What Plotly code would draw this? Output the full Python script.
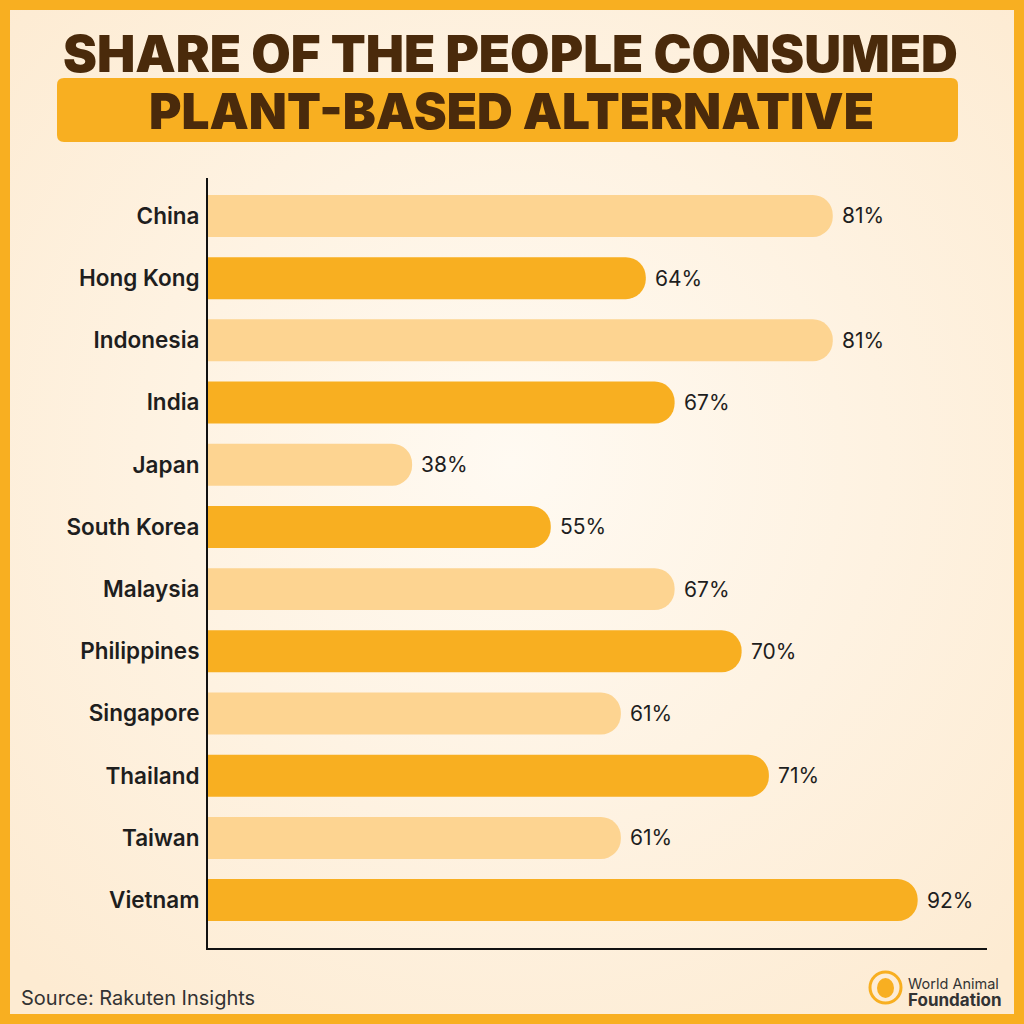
import base64

import plotly.graph_objects as go

# data
countries = [
    "China", "Hong Kong", "Indonesia", "India", "Japan", "South Korea",
    "Malaysia", "Philippines", "Singapore", "Thailand", "Taiwan", "Vietnam",
]
shares = [81, 64, 81, 67, 38, 55, 67, 70, 61, 71, 61, 92]
# drawn bar lengths (the infographic bars are not to scale), in axis units 0-100
bar_lengths = [80.2, 56.2, 80.2, 59.9, 26.2, 44.0, 59.9, 68.5, 53.0, 72.0, 53.0, 91.1]

ORANGE = "#F8AF21"
LIGHT = "#FDD491"
BROWN = "#4A2A0B"
INK = "#1E1E1E"
FONT = "Inter, 'Open Sans', sans-serif"

W = H = 1024


def px(x):
    return x / W


def py(y):
    return 1 - y / H


def rounded_rect(x0, y0, x1, y1, r):
    # path in paper coords from pixel box
    return (
        f"M {px(x0 + r)},{py(y0)} L {px(x1 - r)},{py(y0)} "
        f"Q {px(x1)},{py(y0)} {px(x1)},{py(y0 + r)} "
        f"L {px(x1)},{py(y1 - r)} Q {px(x1)},{py(y1)} {px(x1 - r)},{py(y1)} "
        f"L {px(x0 + r)},{py(y1)} Q {px(x0)},{py(y1)} {px(x0)},{py(y1 - r)} "
        f"L {px(x0)},{py(y0 + r)} Q {px(x0)},{py(y0)} {px(x0 + r)},{py(y0)} Z"
    )


def paper_text(x, y, text, size, color, weight=400, xanchor="center"):
    fig.add_annotation(
        x=px(x), y=py(y), xref="paper", yref="paper", showarrow=False,
        xanchor=xanchor, yanchor="middle", text=text,
        font={"family": FONT, "size": size, "color": color, "weight": weight},
    )


svg = (
    '<svg xmlns="http://www.w3.org/2000/svg" width="1004" height="1004" '
    'preserveAspectRatio="none">'
    '<defs><radialGradient id="g" cx="50%" cy="45%" r="70%">'
    '<stop offset="0%" stop-color="#FFFAF2"/>'
    '<stop offset="100%" stop-color="#FDEBD2"/>'
    "</radialGradient></defs>"
    '<rect width="1004" height="1004" fill="url(#g)"/></svg>'
)
bg_uri = "data:image/svg+xml;base64," + base64.b64encode(svg.encode()).decode()

bar_colors = [LIGHT if i % 2 == 0 else ORANGE for i in range(len(countries))]
pad = 10  # hide the rounded left end behind the axis

fig = go.Figure(
    go.Bar(
        y=countries,
        x=[v + pad for v in bar_lengths],
        base=[-pad] * len(countries),
        orientation="h",
        width=0.675,
        marker={"color": bar_colors, "line": {"width": 0}, "cornerradius": "50%"},
        hoverinfo="skip",
    )
)

for c, v, s in zip(countries, bar_lengths, shares):
    fig.add_annotation(
        x=v, y=c, xref="x", yref="y", text=f"{s}%", showarrow=False,
        xanchor="left", yanchor="middle", xshift=7,
        font={"family": FONT, "size": 21, "color": INK},
    )

fig.update_xaxes(
    range=[0, 100], domain=[px(208), px(987)],
    showline=True, linecolor="#111", linewidth=2,
    showgrid=False, zeroline=False, showticklabels=False, ticks="",
)
fig.update_yaxes(
    range=[11.77, -0.61], domain=[py(948), py(178)],
    showline=True, linecolor="#111", linewidth=2,
    showgrid=False, zeroline=False, ticks="", ticklabelstandoff=2,
    tickfont={"family": FONT, "size": 22.5, "color": INK, "weight": 600},
)

# titles
fig.add_shape(
    type="path", xref="paper", yref="paper",
    path=rounded_rect(57, 78, 958, 142, 7),
    fillcolor=ORANGE, line={"width": 0}, layer="below",
)
paper_text(510, 53, "SHARE OF THE PEOPLE CONSUMED", 51, BROWN, 900)
paper_text(511, 111, "PLANT-BASED ALTERNATIVE", 49.5, BROWN, 900)

# footer
paper_text(19, 998, "Source: Rakuten Insights", 20, "#333", xanchor="left")
fig.add_shape(
    type="circle", xref="paper", yref="paper",
    x0=px(870), x1=px(901), y0=py(1003), y1=py(972),
    line={"color": ORANGE, "width": 3}, fillcolor="rgba(0,0,0,0)",
)
fig.add_shape(
    type="circle", xref="paper", yref="paper",
    x0=px(877), x1=px(894), y0=py(998), y1=py(978),
    line={"width": 0}, fillcolor=ORANGE,
)
paper_text(906, 983, "World Animal", 14.5, "#333", xanchor="left")
paper_text(906, 1000, "Foundation", 17, "#333", 700, xanchor="left")

fig.update_layout(
    width=W, height=H,
    margin={"l": 0, "r": 0, "t": 0, "b": 0},
    paper_bgcolor=ORANGE,
    plot_bgcolor="rgba(0,0,0,0)",
    showlegend=False,
    images=[{
        "source": bg_uri, "xref": "paper", "yref": "paper",
        "x": px(10), "y": py(10), "sizex": px(1004), "sizey": px(1004),
        "xanchor": "left", "yanchor": "top", "sizing": "stretch",
        "layer": "below",
    }],
)

# drop the default page margin so the 1024px figure fills the window
fig.write_html(
    "out.html",
    config={"displayModeBar": False},
    post_script="document.body.style.margin='0';",
)
